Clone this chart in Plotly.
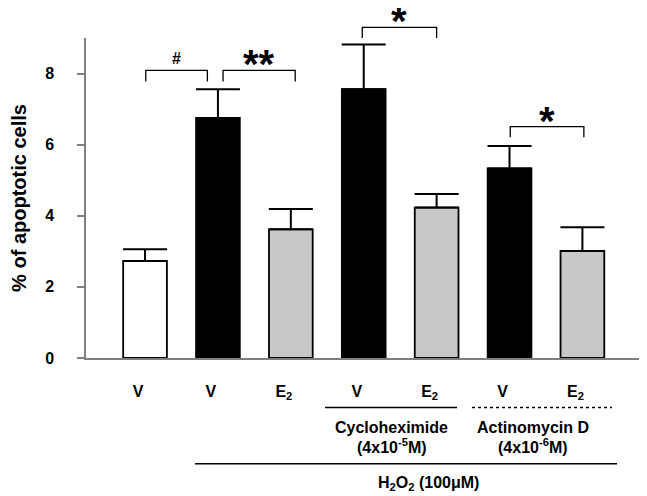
import plotly.graph_objects as go

# ---- data ----
categories = ["c0", "c1", "c2", "c3", "c4", "c5", "c6"]
tick_labels = ["V", "V", "E<sub>2</sub>", "V", "E<sub>2</sub>", "V", "E<sub>2</sub>"]
apoptotic = [2.73, 6.75, 3.62, 7.56, 4.23, 5.33, 3.01]
sem = [0.33, 0.81, 0.57, 1.26, 0.38, 0.63, 0.67]
bar_colors = ["white", "black", "#c8c8c8", "black", "#c8c8c8", "black", "#c8c8c8"]
y_ticks = [0, 2, 4, 6, 8]

# significance brackets
sig_left = [0.01, 1.07, 2.98, 5.01]
sig_right = [0.855, 2.06, 4.0, 6.02]
sig_top = [8.09, 8.09, 9.3, 6.51]
sig_leg = [7.78, 7.78, 9.0, 6.21]
sig_mark = ["#", "**", "*", "*"]

YMAX = 9.0
FONT = "Liberation Sans, Arial, sans-serif"
BODY = 8  # default page body margin in the browser

fig = go.Figure()
fig.add_trace(go.Bar(
    x=list(range(len(categories))),
    y=apoptotic,
    width=0.6,
    marker=dict(color=bar_colors, line=dict(color="black", width=1.8)),
    error_y=dict(type="data", array=sem, arrayminus=[0] * len(sem), symmetric=False,
                 color="black", thickness=2, width=22),
    showlegend=False,
))

shapes = []
annotations = []
for xl, xr, yt, yl, mk in zip(sig_left, sig_right, sig_top, sig_leg, sig_mark):
    shapes.append(dict(type="path", xref="x", yref="paper",
                       path=f"M {xl} {yl/YMAX} L {xl} {yt/YMAX} L {xr} {yt/YMAX} L {xr} {yl/YMAX}",
                       line=dict(color="black", width=1.3)))
    if mk == "#":
        annotations.append(dict(x=(xl + xr) / 2, y=yt / YMAX, xref="x", yref="paper",
                                text=f"<b>{mk}</b>", showarrow=False,
                                font=dict(family=FONT, size=16, color="black"),
                                yanchor="bottom", yshift=1))
    else:
        annotations.append(dict(x=(xl + xr) / 2, y=yt / YMAX, xref="x", yref="paper",
                                text=f"<b>{mk}</b>", showarrow=False,
                                font=dict(family=FONT, size=40, color="black"),
                                height=30, valign="top",
                                yanchor="bottom", yshift=-4))

# grouping lines beneath axis (paper coordinates, from page pixels)
def px_x(p):
    return (p - 86) / 554.0

def px_y(p):
    return (358.3 - p) / 320.0

shapes.append(dict(type="line", xref="paper", yref="paper", x0=px_x(325), x1=px_x(457),
                   y0=px_y(407.7), y1=px_y(407.7), line=dict(color="black", width=1.5)))
shapes.append(dict(type="line", xref="paper", yref="paper", x0=px_x(472), x1=px_x(612),
                   y0=px_y(407.7), y1=px_y(407.7), line=dict(color="black", width=1.5, dash="dot")))
shapes.append(dict(type="line", xref="paper", yref="paper", x0=px_x(195), x1=px_x(617),
                   y0=px_y(464), y1=px_y(464), line=dict(color="black", width=1.5)))

group_text = [
    ("Cycloheximide", 391.7, 427.3),
    ("(4x10<sup>-5</sup>M)", 391.7, 446.7),
    ("Actinomycin D", 533.3, 427.3),
    ("(4x10<sup>-6</sup>M)", 533.3, 446.7),
    ("H<sub>2</sub>O<sub>2</sub> (100μM)", 428.3, 483.3),
]
for t, xx, yy in group_text:
    annotations.append(dict(x=px_x(xx), y=px_y(yy), xref="paper", yref="paper",
                            text=f"<b>{t}</b>", showarrow=False, xanchor="center", yanchor="middle",
                            font=dict(family=FONT, size=16, color="black")))

fig.update_layout(
    width=647 - BODY, height=496 - BODY, autosize=False,
    margin=dict(l=86 - BODY, r=7, t=38 - BODY, b=138),
    paper_bgcolor="white", plot_bgcolor="white",
    font=dict(family=FONT, color="black"),
    shapes=shapes, annotations=annotations,
)
fig.update_xaxes(
    range=[-0.81, 6.79],
    tickmode="array", tickvals=list(range(len(categories))),
    ticktext=[f"<b>{t}</b>" for t in tick_labels],
    tickfont=dict(family=FONT, size=16, color="black"),
    showline=True, linecolor="#7f7f7f", linewidth=1.5,
    ticks="", showgrid=False, zeroline=False,
    ticklabelstandoff=18, ticklabelshift=-7,
)
fig.update_yaxes(
    range=[0, YMAX],
    tickmode="array", tickvals=y_ticks, ticktext=[f"<b>{v}</b>" for v in y_ticks],
    tickfont=dict(family=FONT, size=16, color="black"),
    showline=True, linecolor="#7f7f7f", linewidth=1.5,
    ticks="outside", ticklen=7, tickcolor="#7f7f7f", tickwidth=1.5,
    showgrid=False, zeroline=False,
    ticklabelstandoff=20,
    title=dict(text="<b>% of apoptotic cells</b>", font=dict(family=FONT, size=20, color="black"),
               standoff=16),
)

fig.write_html("out.html")
